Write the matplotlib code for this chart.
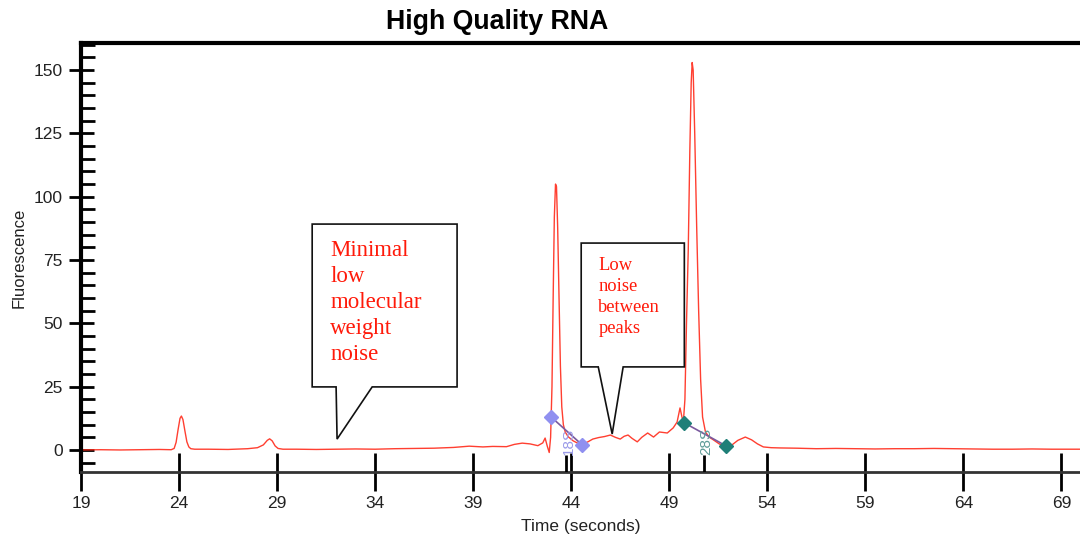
import matplotlib.pyplot as plt
import numpy as np

# electropherogram trace (time in s, fluorescence)
time_s = [19.0, 20.0, 21.0, 22.0, 23.0, 23.6, 23.75, 23.85, 23.95, 24.05, 24.12, 24.2, 24.3, 24.4,
          24.5, 24.6, 24.8, 25.5, 26.5, 27.5, 28.0, 28.3, 28.5, 28.62, 28.75, 28.9, 29.05, 29.3,
          30.0, 31.0, 32.0, 33.0, 34.0, 35.0, 36.0, 37.0, 38.0, 38.8, 39.5, 40.0, 40.7, 41.1,
          41.5, 41.9, 42.3, 42.55, 42.67, 42.78, 42.88, 42.95, 43.02, 43.08, 43.14, 43.2, 43.25,
          43.31, 43.38, 43.45, 43.52, 43.6, 43.7, 43.85, 44.1, 44.3, 44.6, 44.85, 45.1, 45.4,
          45.7, 46.0, 46.25, 46.5, 46.7, 46.9, 47.1, 47.37, 47.6, 47.9, 48.2, 48.5, 48.9, 49.2,
          49.4, 49.55, 49.65, 49.72, 49.8, 49.88, 49.97, 50.05, 50.12, 50.17, 50.22, 50.3, 50.4,
          50.5, 50.6, 50.7, 50.85, 51.05, 51.25, 51.55, 51.86, 52.2, 52.5, 52.88, 53.2, 53.5,
          53.8, 54.2, 54.66, 55.5, 56.5, 57.5, 58.5, 59.5, 60.5, 61.5, 62.5, 63.5, 64.5, 65.5,
          66.5, 67.5, 68.5, 69.5, 70.2]
fluor = [0.0, 0.1, 0.0, 0.1, 0.2, 0.1, 0.6, 3.0, 8.0, 12.5, 13.4, 12.0, 7.5, 3.2,
         1.2, 0.5, 0.3, 0.3, 0.2, 0.5, 0.9, 2.0, 3.8, 4.4, 3.6, 1.6, 0.6, 0.3,
         0.3, 0.2, 0.3, 0.4, 0.3, 0.5, 0.6, 0.7, 1.0, 1.5, 1.2, 1.4, 1.3, 2.2,
         2.7, 2.4, 1.7, 2.8, 4.7, 1.5, -1.0, 5.0, 25.0, 60.0, 92.0, 105.0, 104.0,
         88.0, 60.0, 33.0, 17.0, 10.0, 7.0, 5.2, 3.6, 2.8, 2.4, 3.2, 4.3, 4.9,
         5.3, 5.9, 5.0, 4.3, 5.4, 5.9, 4.6, 3.2, 5.0, 6.7, 5.1, 7.1, 6.7, 8.7,
         11.0, 16.6, 13.0, 11.0, 20.0, 50.0, 79.0, 118.0, 145.0, 153.0, 150.0, 125.0, 88.0,
         55.0, 28.0, 13.0, 7.0, 5.0, 4.0, 2.4, 1.2, 2.0, 3.8, 5.1, 4.0, 2.4,
         1.2, 0.9, 0.8, 0.7, 0.5, 0.6, 0.5, 0.4, 0.5, 0.5, 0.6, 0.5, 0.4, 0.3,
         0.3, 0.4, 0.3, 0.3, 0.3]

# ribosomal peak markers: start / end diamonds and the tick under each peak
peak_names = ["18S", "28S"]
peak_start = [(42.98, 13.0), (49.77, 10.7)]
peak_end = [(44.56, 2.0), (51.9, 1.6)]
peak_tick = [43.74, 50.79]
peak_colors = ["#9090f0", "#1f7f78"]
peak_text_colors = ["#9a9ae8", "#5f9c98"]

# callout notes
note1_text = "Minimal\nlow\nmolecular\nweight\nnoise"
note1_shape = [(30.79, 89.2), (38.18, 89.2), (38.18, 24.9), (33.85, 24.9), (32.06, 4.3),
               (32.01, 24.9), (30.79, 24.9)]
note2_text = "Low\nnoise\nbetween\npeaks"
note2_shape = [(44.51, 81.7), (49.77, 81.7), (49.77, 32.8), (46.65, 32.8), (46.09, 6.3),
               (45.38, 32.8), (44.51, 32.8)]

plt.rcParams['font.family'] = ['Liberation Sans', 'DejaVu Sans']

fig = plt.figure(figsize=(10.8, 5.4), dpi=100)
ax = fig.add_axes([81 / 1080, 68 / 540, 1000 / 1080, 429 / 540])
ax.set_xlim(19, 70)
ax.set_ylim(-8.7, 160.7)

ax.plot(time_s, fluor, color="#ff2a1a", lw=1.0, alpha=0.9, zorder=2)

for i, name in enumerate(peak_names):
    xs = [peak_start[i][0], peak_end[i][0]]
    ys = [peak_start[i][1], peak_end[i][1]]
    ax.plot(xs, ys, color="#7a5a9e", lw=1.2, zorder=3)
    ax.plot(xs, ys, ls="none", marker="D", ms=7, color=peak_colors[i], zorder=4)
    ax.vlines(peak_tick[i], -8.7, -2, color="black", lw=2, zorder=4)
    ax.text(peak_tick[i] + 0.12, 3.5, name, rotation=90, ha="center", va="center",
            fontsize=11, color=peak_text_colors[i], zorder=4)

for shape in (note1_shape, note2_shape):
    ax.add_patch(plt.Polygon(shape, closed=True, facecolor="white", edgecolor="#111111",
                             lw=1.2, zorder=5))
ax.text(31.71, 83.1, note1_text, ha="left", va="top", color="#ff1a0a", fontsize=16.5,
        family="Liberation Serif", linespacing=1.32, zorder=6)
ax.text(45.38, 76.2, note2_text, ha="left", va="top", color="#ff1a0a", fontsize=13.3,
        family="Liberation Serif", linespacing=1.32, zorder=6)

ax.set_xticks(np.arange(19, 70, 5))
ax.set_yticks(np.arange(0, 151, 25))
ax.set_yticks(np.arange(-5, 161, 5), minor=True)
ax.tick_params(axis="x", direction="inout", length=28, width=2, pad=3,
               labelsize=12.5, labelcolor="#222222")
ax.tick_params(axis="y", which="major", direction="inout", length=18, width=2, pad=4,
               labelsize=12.5, labelcolor="#222222")
ax.tick_params(axis="y", which="minor", direction="in", length=10, width=2)

ax.spines["right"].set_visible(False)
ax.spines["top"].set_linewidth(3)
ax.spines["left"].set_linewidth(3)
ax.spines["bottom"].set_linewidth(2)
ax.spines["bottom"].set_color("#333333")

ax.set_xlabel("Time (seconds)", fontsize=12.5, color="#222222", labelpad=6)
ax.set_ylabel("Fluorescence", fontsize=12, color="#222222", labelpad=5)
fig.text(497 / 1080, 1 - 22 / 540, "High Quality RNA", ha="center", va="center",
         fontsize=19.3, fontweight="bold")

plt.savefig("out.png", dpi=100)
